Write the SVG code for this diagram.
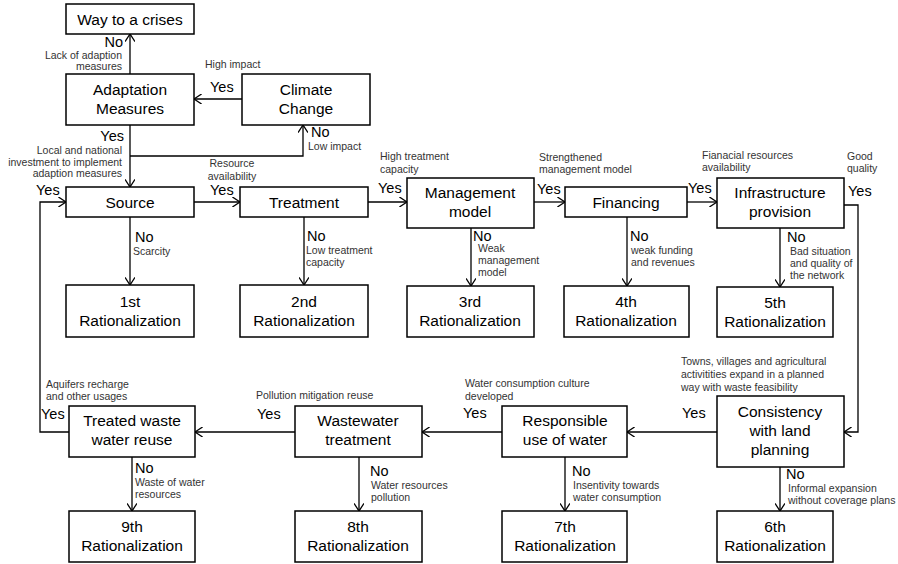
<svg xmlns="http://www.w3.org/2000/svg" width="898" height="564" viewBox="0 0 898 564">
<style>
.box{fill:#fff;stroke:#000;stroke-width:1.5}
.t{font-family:"Liberation Sans",Arial,sans-serif;font-size:15.5px;fill:#000;text-anchor:middle}
.yn{font-family:"Liberation Sans",Arial,sans-serif;font-size:14.5px;fill:#000}
.s{font-family:"Liberation Sans",Arial,sans-serif;font-size:10.5px;fill:#333}
.e{text-anchor:end}
.m{text-anchor:middle}
.c{fill:none;stroke:#000;stroke-width:1.3}
</style>
<defs>
<marker id="a" viewBox="0 0 10 10" refX="9.6" refY="5" markerWidth="10" markerHeight="10" markerUnits="userSpaceOnUse" orient="auto">
<path d="M2,0 L9.6,5 L2,10" fill="none" stroke="#000" stroke-width="1.3"/>
</marker>
</defs>
<rect width="898" height="564" fill="#fff"/>
<g id="connectors">
<path class="c" d="M130,74 V34" marker-end="url(#a)"/>
<path class="c" d="M242,99 H194" marker-end="url(#a)"/>
<path class="c" d="M130,125 V187" marker-end="url(#a)"/>
<path class="c" d="M130,156 H303 V125" marker-end="url(#a)"/>
<path class="c" d="M194,202 H240" marker-end="url(#a)"/>
<path class="c" d="M368,202 H407" marker-end="url(#a)"/>
<path class="c" d="M534,202 H565" marker-end="url(#a)"/>
<path class="c" d="M687,202 H717" marker-end="url(#a)"/>
<path class="c" d="M844,205 H858 V432 H844" marker-end="url(#a)"/>
<path class="c" d="M130,217 V285" marker-end="url(#a)"/>
<path class="c" d="M304,217 V285" marker-end="url(#a)"/>
<path class="c" d="M471,228 V286" marker-end="url(#a)"/>
<path class="c" d="M627,217 V286" marker-end="url(#a)"/>
<path class="c" d="M780,228 V287" marker-end="url(#a)"/>
<path class="c" d="M717,432 H627" marker-end="url(#a)"/>
<path class="c" d="M780,467 V511" marker-end="url(#a)"/>
<path class="c" d="M502,432 H422" marker-end="url(#a)"/>
<path class="c" d="M565,457 V511" marker-end="url(#a)"/>
<path class="c" d="M295,432 H195" marker-end="url(#a)"/>
<path class="c" d="M359,457 V511" marker-end="url(#a)"/>
<path class="c" d="M132,457 V511" marker-end="url(#a)"/>
<path class="c" d="M69,432 H40 V202 H66" marker-end="url(#a)"/>
</g>
<g id="labels">
<text class="yn e" x="123" y="47">No</text>
<text class="s e" x="122" y="59">Lack of adaption</text>
<text class="s e" x="122" y="70">measures</text>
<text class="s" x="205" y="68">High impact</text>
<text class="yn" x="210" y="92">Yes</text>
<text class="yn e" x="124" y="141">Yes</text>
<text class="s e" x="122" y="154">Local and national</text>
<text class="s e" x="122" y="166">investment to implement</text>
<text class="s e" x="122" y="177">adaption measures</text>
<text class="yn" x="311" y="137">No</text>
<text class="s" x="308" y="150">Low impact</text>
<text class="s m" x="232" y="167">Resource</text>
<text class="s m" x="232" y="180">availability</text>
<text class="yn" x="36" y="195">Yes</text>
<text class="yn" x="210" y="195">Yes</text>
<text class="s" x="380" y="160">High treatment</text>
<text class="s" x="380" y="173">capacity</text>
<text class="yn" x="378" y="193">Yes</text>
<text class="s" x="539" y="161">Strengthened</text>
<text class="s" x="539" y="173">management model</text>
<text class="yn" x="537" y="194">Yes</text>
<text class="s" x="702" y="159">Fianacial resources</text>
<text class="s" x="702" y="171">availability</text>
<text class="yn" x="688" y="193">Yes</text>
<text class="s" x="847" y="160">Good</text>
<text class="s" x="847" y="172">quality</text>
<text class="yn" x="848" y="196">Yes</text>
<text class="yn" x="135" y="242">No</text>
<text class="s" x="133" y="255">Scarcity</text>
<text class="yn" x="307" y="241">No</text>
<text class="s" x="306" y="254">Low treatment</text>
<text class="s" x="306" y="266">capacity</text>
<text class="yn" x="473" y="241">No</text>
<text class="s" x="478" y="252">Weak</text>
<text class="s" x="478" y="264">management</text>
<text class="s" x="478" y="276">model</text>
<text class="yn" x="630" y="241">No</text>
<text class="s" x="631" y="254">weak funding</text>
<text class="s" x="631" y="266">and revenues</text>
<text class="yn" x="787" y="242">No</text>
<text class="s" x="790" y="255">Bad situation</text>
<text class="s" x="790" y="267">and quality of</text>
<text class="s" x="790" y="279">the network</text>
<text class="s" x="681" y="365">Towns, villages and agricultural</text>
<text class="s" x="681" y="378">activitities expand in a planned</text>
<text class="s" x="681" y="391">way with waste feasibility</text>
<text class="yn" x="682" y="418">Yes</text>
<text class="yn" x="786" y="479">No</text>
<text class="s" x="788" y="492">Informal expansion</text>
<text class="s" x="788" y="504">without coverage plans</text>
<text class="s" x="465" y="387">Water consumption culture</text>
<text class="s" x="465" y="400">developed</text>
<text class="yn" x="463" y="418">Yes</text>
<text class="yn" x="572" y="476">No</text>
<text class="s" x="573" y="489">Insentivity towards</text>
<text class="s" x="573" y="501">water consumption</text>
<text class="s" x="256" y="399">Pollution mitigation reuse</text>
<text class="yn" x="257" y="419">Yes</text>
<text class="yn" x="370" y="476">No</text>
<text class="s" x="371" y="489">Water resources</text>
<text class="s" x="371" y="501">pollution</text>
<text class="s" x="46" y="388">Aquifers recharge</text>
<text class="s" x="46" y="400">and other usages</text>
<text class="yn" x="41" y="419">Yes</text>
<text class="yn" x="135" y="473">No</text>
<text class="s" x="135" y="486">Waste of water</text>
<text class="s" x="135" y="498">resources</text>
</g>
<g id="crises"><rect class="box" x="66" y="4" width="128" height="30"/><text class="t" x="130" y="25">Way to a crises</text></g>
<g id="adaptation"><rect class="box" x="66" y="74" width="128" height="51"/><text class="t" x="130" y="95">Adaptation</text><text class="t" x="130" y="114">Measures</text></g>
<g id="climate"><rect class="box" x="242" y="74" width="128" height="51"/><text class="t" x="306" y="95">Climate</text><text class="t" x="306" y="114">Change</text></g>
<g id="source"><rect class="box" x="66" y="187" width="128" height="30"/><text class="t" x="130" y="208">Source</text></g>
<g id="treatment"><rect class="box" x="240" y="187" width="128" height="30"/><text class="t" x="304" y="208">Treatment</text></g>
<g id="management"><rect class="box" x="407" y="178" width="127" height="50"/><text class="t" x="470" y="198">Management</text><text class="t" x="470" y="217">model</text></g>
<g id="financing"><rect class="box" x="565" y="187" width="122" height="30"/><text class="t" x="626" y="208">Financing</text></g>
<g id="infrastructure"><rect class="box" x="717" y="178" width="127" height="50"/><text class="t" x="780" y="198">Infrastructure</text><text class="t" x="780" y="217">provision</text></g>
<g id="r1"><rect class="box" x="66" y="285" width="128" height="52"/><text class="t" x="130" y="307">1st</text><text class="t" x="130" y="326">Rationalization</text></g>
<g id="r2"><rect class="box" x="240" y="285" width="128" height="52"/><text class="t" x="304" y="307">2nd</text><text class="t" x="304" y="326">Rationalization</text></g>
<g id="r3"><rect class="box" x="407" y="286" width="127" height="51"/><text class="t" x="470" y="307">3rd</text><text class="t" x="470" y="326">Rationalization</text></g>
<g id="r4"><rect class="box" x="564" y="286" width="125" height="51"/><text class="t" x="626" y="307">4th</text><text class="t" x="626" y="326">Rationalization</text></g>
<g id="r5"><rect class="box" x="717" y="287" width="116" height="50"/><text class="t" x="775" y="308">5th</text><text class="t" x="775" y="327">Rationalization</text></g>
<g id="consistency"><rect class="box" x="717" y="396" width="127" height="71"/><text class="t" x="780" y="417">Consistency</text><text class="t" x="780" y="436">with land</text><text class="t" x="780" y="455">planning</text></g>
<g id="responsible"><rect class="box" x="502" y="406" width="125" height="51"/><text class="t" x="565" y="426">Responsible</text><text class="t" x="565" y="445">use of water</text></g>
<g id="wastewater"><rect class="box" x="295" y="406" width="127" height="51"/><text class="t" x="358" y="426">Wastewater</text><text class="t" x="358" y="445">treatment</text></g>
<g id="treated"><rect class="box" x="69" y="406" width="126" height="51"/><text class="t" x="132" y="426">Treated waste</text><text class="t" x="132" y="445">water reuse</text></g>
<g id="r6"><rect class="box" x="717" y="511" width="116" height="51"/><text class="t" x="775" y="532">6th</text><text class="t" x="775" y="551">Rationalization</text></g>
<g id="r7"><rect class="box" x="502" y="511" width="125" height="51"/><text class="t" x="565" y="532">7th</text><text class="t" x="565" y="551">Rationalization</text></g>
<g id="r8"><rect class="box" x="295" y="511" width="127" height="51"/><text class="t" x="358" y="532">8th</text><text class="t" x="358" y="551">Rationalization</text></g>
<g id="r9"><rect class="box" x="69" y="511" width="126" height="51"/><text class="t" x="132" y="532">9th</text><text class="t" x="132" y="551">Rationalization</text></g>
</svg>
